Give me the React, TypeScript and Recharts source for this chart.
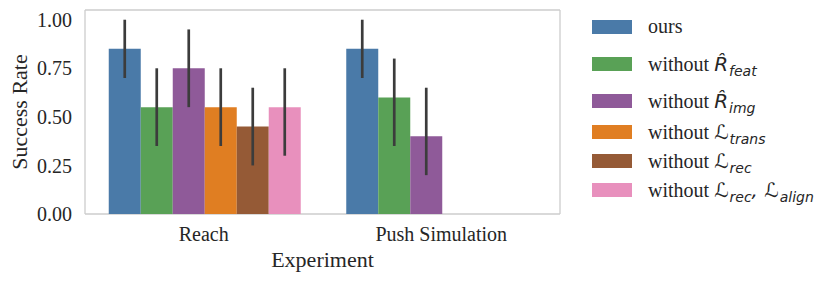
import React from "react";
import { Bar, BarChart, CartesianGrid, ErrorBar, XAxis, YAxis } from "recharts";

const experiments = ["Reach", "Push Simulation"];

const seriesKeys = ["ours", "noFeat", "noImg", "noTrans", "noRec", "noRecAlign"] as const;
type SeriesKey = (typeof seriesKeys)[number];

// mean success rate per experiment (null = not run)
const ours = [0.85, 0.85];
const noFeat = [0.55, 0.6];
const noImg = [0.75, 0.4];
const noTrans = [0.55, null];
const noRec = [0.45, null];
const noRecAlign = [0.55, null];

// confidence interval ends
const oursLow = [0.7, 0.7];
const oursHigh = [1.0, 1.0];
const noFeatLow = [0.35, 0.35];
const noFeatHigh = [0.75, 0.8];
const noImgLow = [0.55, 0.2];
const noImgHigh = [0.95, 0.65];
const noTransLow = [0.35, null];
const noTransHigh = [0.75, null];
const noRecLow = [0.25, null];
const noRecHigh = [0.65, null];
const noRecAlignLow = [0.3, null];
const noRecAlignHigh = [0.75, null];

const yTicks = [0, 0.25, 0.5, 0.75, 1.0];

const means: Record<SeriesKey, (number | null)[]> = { ours, noFeat, noImg, noTrans, noRec, noRecAlign };
const lows: Record<SeriesKey, (number | null)[]> = {
  ours: oursLow,
  noFeat: noFeatLow,
  noImg: noImgLow,
  noTrans: noTransLow,
  noRec: noRecLow,
  noRecAlign: noRecAlignLow,
};
const highs: Record<SeriesKey, (number | null)[]> = {
  ours: oursHigh,
  noFeat: noFeatHigh,
  noImg: noImgHigh,
  noTrans: noTransHigh,
  noRec: noRecHigh,
  noRecAlign: noRecAlignHigh,
};

const colors: Record<SeriesKey, string> = {
  ours: "#4a7aa8",
  noFeat: "#59a156",
  noImg: "#8f5a99",
  noTrans: "#e07e22",
  noRec: "#955a36",
  noRecAlign: "#e890bd",
};

const data = experiments.map((name, i) => {
  const row: Record<string, unknown> = { name };
  seriesKeys.forEach((k) => {
    const m = means[k][i];
    row[k] = m;
    row[k + "Err"] =
      m == null || lows[k][i] == null ? null : [m - (lows[k][i] as number), (highs[k][i] as number) - m];
  });
  return row;
});

const serif = "Liberation Serif, DejaVu Serif, serif";
const mathFont = "DejaVu Sans, sans-serif";
const ink = "#262626";
const frame = "#cccccc";

const Sub = ({ children }: { children: React.ReactNode }) => (
  <span style={{ fontSize: 14, position: "relative", top: 5, marginLeft: 1 }}>{children}</span>
);

const HatR = () => <span>{"R\u0302"}</span>;

const CalL = () => <span style={{ fontStyle: "normal", fontFamily: mathFont }}>ℒ</span>;

const legendItems: { key: SeriesKey; hat: boolean; math: React.ReactNode }[] = [
  { key: "ours", hat: false, math: null },
  { key: "noFeat", hat: true, math: <><HatR /><Sub>feat</Sub></> },
  { key: "noImg", hat: true, math: <><HatR /><Sub>img</Sub></> },
  { key: "noTrans", hat: false, math: <><CalL /><Sub>trans</Sub></> },
  { key: "noRec", hat: false, math: <><CalL /><Sub>rec</Sub></> },
  {
    key: "noRecAlign",
    hat: false,
    math: <><CalL /><Sub>rec</Sub>, <CalL /><Sub>align</Sub></>,
  },
];

function ChartLegend() {
  return (
    <div style={{ position: "absolute", left: 592, top: 12, fontFamily: serif, fontSize: 20, color: ink }}>
      {legendItems.map((it, i) => (
        <div
          key={it.key}
          style={{
            display: "flex",
            alignItems: "center",
            height: 29,
            marginTop: it.hat ? 8 : i === 3 ? 2 : 0,
          }}
        >
          <span style={{ width: 40, height: 14, background: colors[it.key], display: "inline-block" }} />
          <span style={{ marginLeft: 16, whiteSpace: "nowrap" }}>
            {it.key === "ours" ? "ours" : "without "}
            {it.math && (
              <span style={{ fontFamily: mathFont, fontStyle: "italic", fontSize: 20 }}>{it.math}</span>
            )}
          </span>
        </div>
      ))}
    </div>
  );
}

export default function App() {
  const tick = { fill: ink, fontSize: 20, fontFamily: serif };
  const labelStyle = { fill: ink, fontSize: 22, fontFamily: serif };
  return (
    <div style={{ position: "absolute", left: 0, top: 0, width: 830, height: 282, background: "#fff" }}>
      <BarChart
        width={830}
        height={282}
        data={data}
        margin={{ top: 10, right: 270, left: 0, bottom: 0 }}
        barCategoryGap="10%"
        barGap={0}
      >
        {/* plot frame on all four sides */}
        <CartesianGrid
          stroke={frame}
          strokeWidth={1.3}
          horizontalCoordinatesGenerator={({ offset }: any) => [offset.top, offset.top + offset.height]}
          verticalCoordinatesGenerator={({ offset }: any) => [offset.left, offset.left + offset.width]}
        />
        <XAxis
          dataKey="name"
          height={68}
          tick={tick}
          tickLine={false}
          tickSize={0}
          tickMargin={13}
          axisLine={false}
          label={{ value: "Experiment", position: "insideBottom", offset: 15, style: labelStyle }}
        />
        <YAxis
          width={85}
          domain={[0, 1.05]}
          allowDataOverflow
          ticks={yTicks}
          tickFormatter={(v: number) => v.toFixed(2)}
          tick={tick}
          tickLine={false}
          tickSize={0}
          tickMargin={13}
          axisLine={false}
          label={{
            value: "Success Rate",
            angle: -90,
            position: "insideLeft",
            offset: 19,
            style: { ...labelStyle, textAnchor: "middle" },
          }}
        />
        {seriesKeys.map((k) => (
          <Bar key={k} dataKey={k} fill={colors[k]} isAnimationActive={false}>
            <ErrorBar dataKey={k + "Err"} width={0} stroke="#3c3c3c" strokeWidth={2.7} />
          </Bar>
        ))}
      </BarChart>
      <ChartLegend />
    </div>
  );
}
